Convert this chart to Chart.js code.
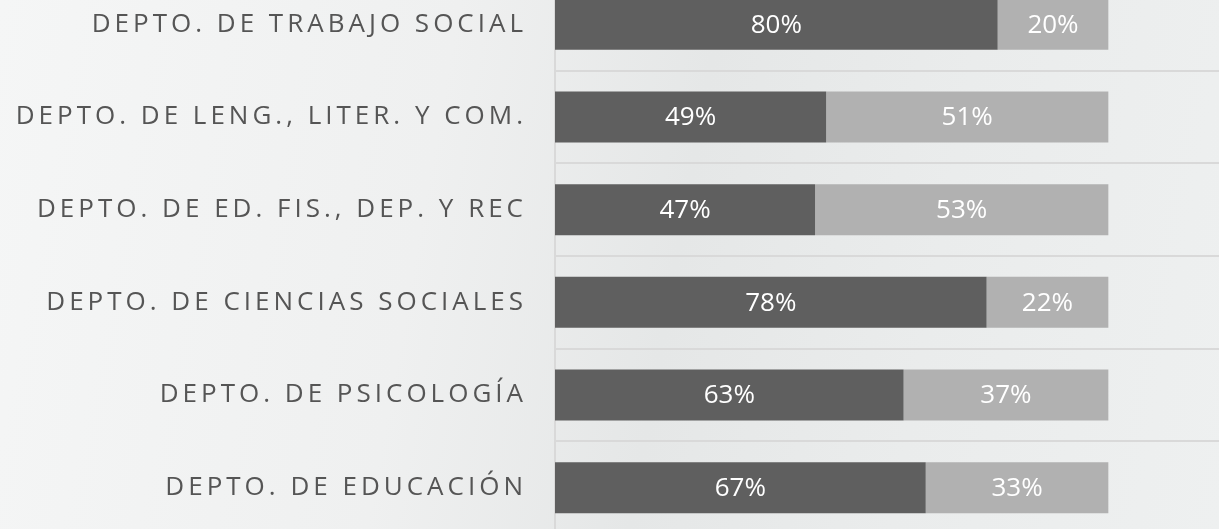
<!DOCTYPE html>
<html>
<head>
<meta charset="utf-8">
<script src="https://cdn.jsdelivr.net/npm/chart.js@4"></script>
<style>
  html, body { margin: 0; padding: 0; }
  body {
    width: 1219px; height: 529px; overflow: hidden; position: relative;
    background: linear-gradient(100deg, #f5f6f6 0%, #eff0f0 35%, #e5e7e7 55%, #eaecec 75%, #eef0f0 100%);
  }
  #wrap { position: absolute; left: 0; top: -22px; width: 1219px; height: 556px; }
</style>
</head>
<body>
<div id="wrap"><canvas id="chart"></canvas></div>
<script>
// Departamentos y porcentajes
const categories = [
  'DEPTO. DE TRABAJO SOCIAL',
  'DEPTO. DE LENG., LITER. Y COM.',
  'DEPTO. DE ED. FIS., DEP. Y REC',
  'DEPTO. DE CIENCIAS SOCIALES',
  'DEPTO. DE PSICOLOGÍA',
  'DEPTO. DE EDUCACIÓN'
];
const serieA = [80, 49, 47, 78, 63, 67];
const serieB = [20, 51, 53, 22, 37, 33];

// tick labels use spaced caps, bar labels don't
const spacingPlugin = {
  id: 'spacing',
  beforeDraw(chart) { chart.ctx.letterSpacing = '4px'; },
  afterDatasetsDraw(chart) {
    const ctx = chart.ctx;
    ctx.save();
    ctx.letterSpacing = '0px';
    ctx.fillStyle = '#ffffff';
    ctx.font = '26px "Open Sans", sans-serif';
    ctx.textAlign = 'center';
    ctx.textBaseline = 'middle';
    chart.data.datasets.forEach((ds, i) => {
      chart.getDatasetMeta(i).data.forEach((bar, j) => {
        const cx = (bar.x + bar.base) / 2;
        ctx.fillText(ds.data[j] + '%', cx, bar.y + 1);
      });
    });
    ctx.restore();
  }
};

new Chart(document.getElementById('chart'), {
  type: 'bar',
  data: {
    labels: categories,
    datasets: [
      { label: 'Serie 1', data: serieA, backgroundColor: '#5f5f5f' },
      { label: 'Serie 2', data: serieB, backgroundColor: '#b1b1b1' }
    ]
  },
  options: {
    indexAxis: 'y',
    responsive: true,
    maintainAspectRatio: false,
    animation: false,
    layout: { padding: 0 },
    datasets: { bar: { barPercentage: 0.55, categoryPercentage: 1 } },
    plugins: { legend: { display: false }, tooltip: { enabled: false } },
    scales: {
      x: { stacked: true, min: 0, max: 120, display: false },
      y: {
        stacked: true,
        afterFit(scale) {
          scale.width = 555;
          scale.paddingTop = 0;
          scale.paddingBottom = 0;
        },
        grid: { color: '#d9d9d9', lineWidth: 2, drawTicks: false, offset: true },
        border: { color: '#d9d9d9', width: 2 },
        ticks: {
          color: '#555555',
          padding: 28,
          font: { family: '"Open Sans", sans-serif', size: 26 }
        }
      }
    }
  },
  plugins: [spacingPlugin]
});
</script>
</body>
</html>
